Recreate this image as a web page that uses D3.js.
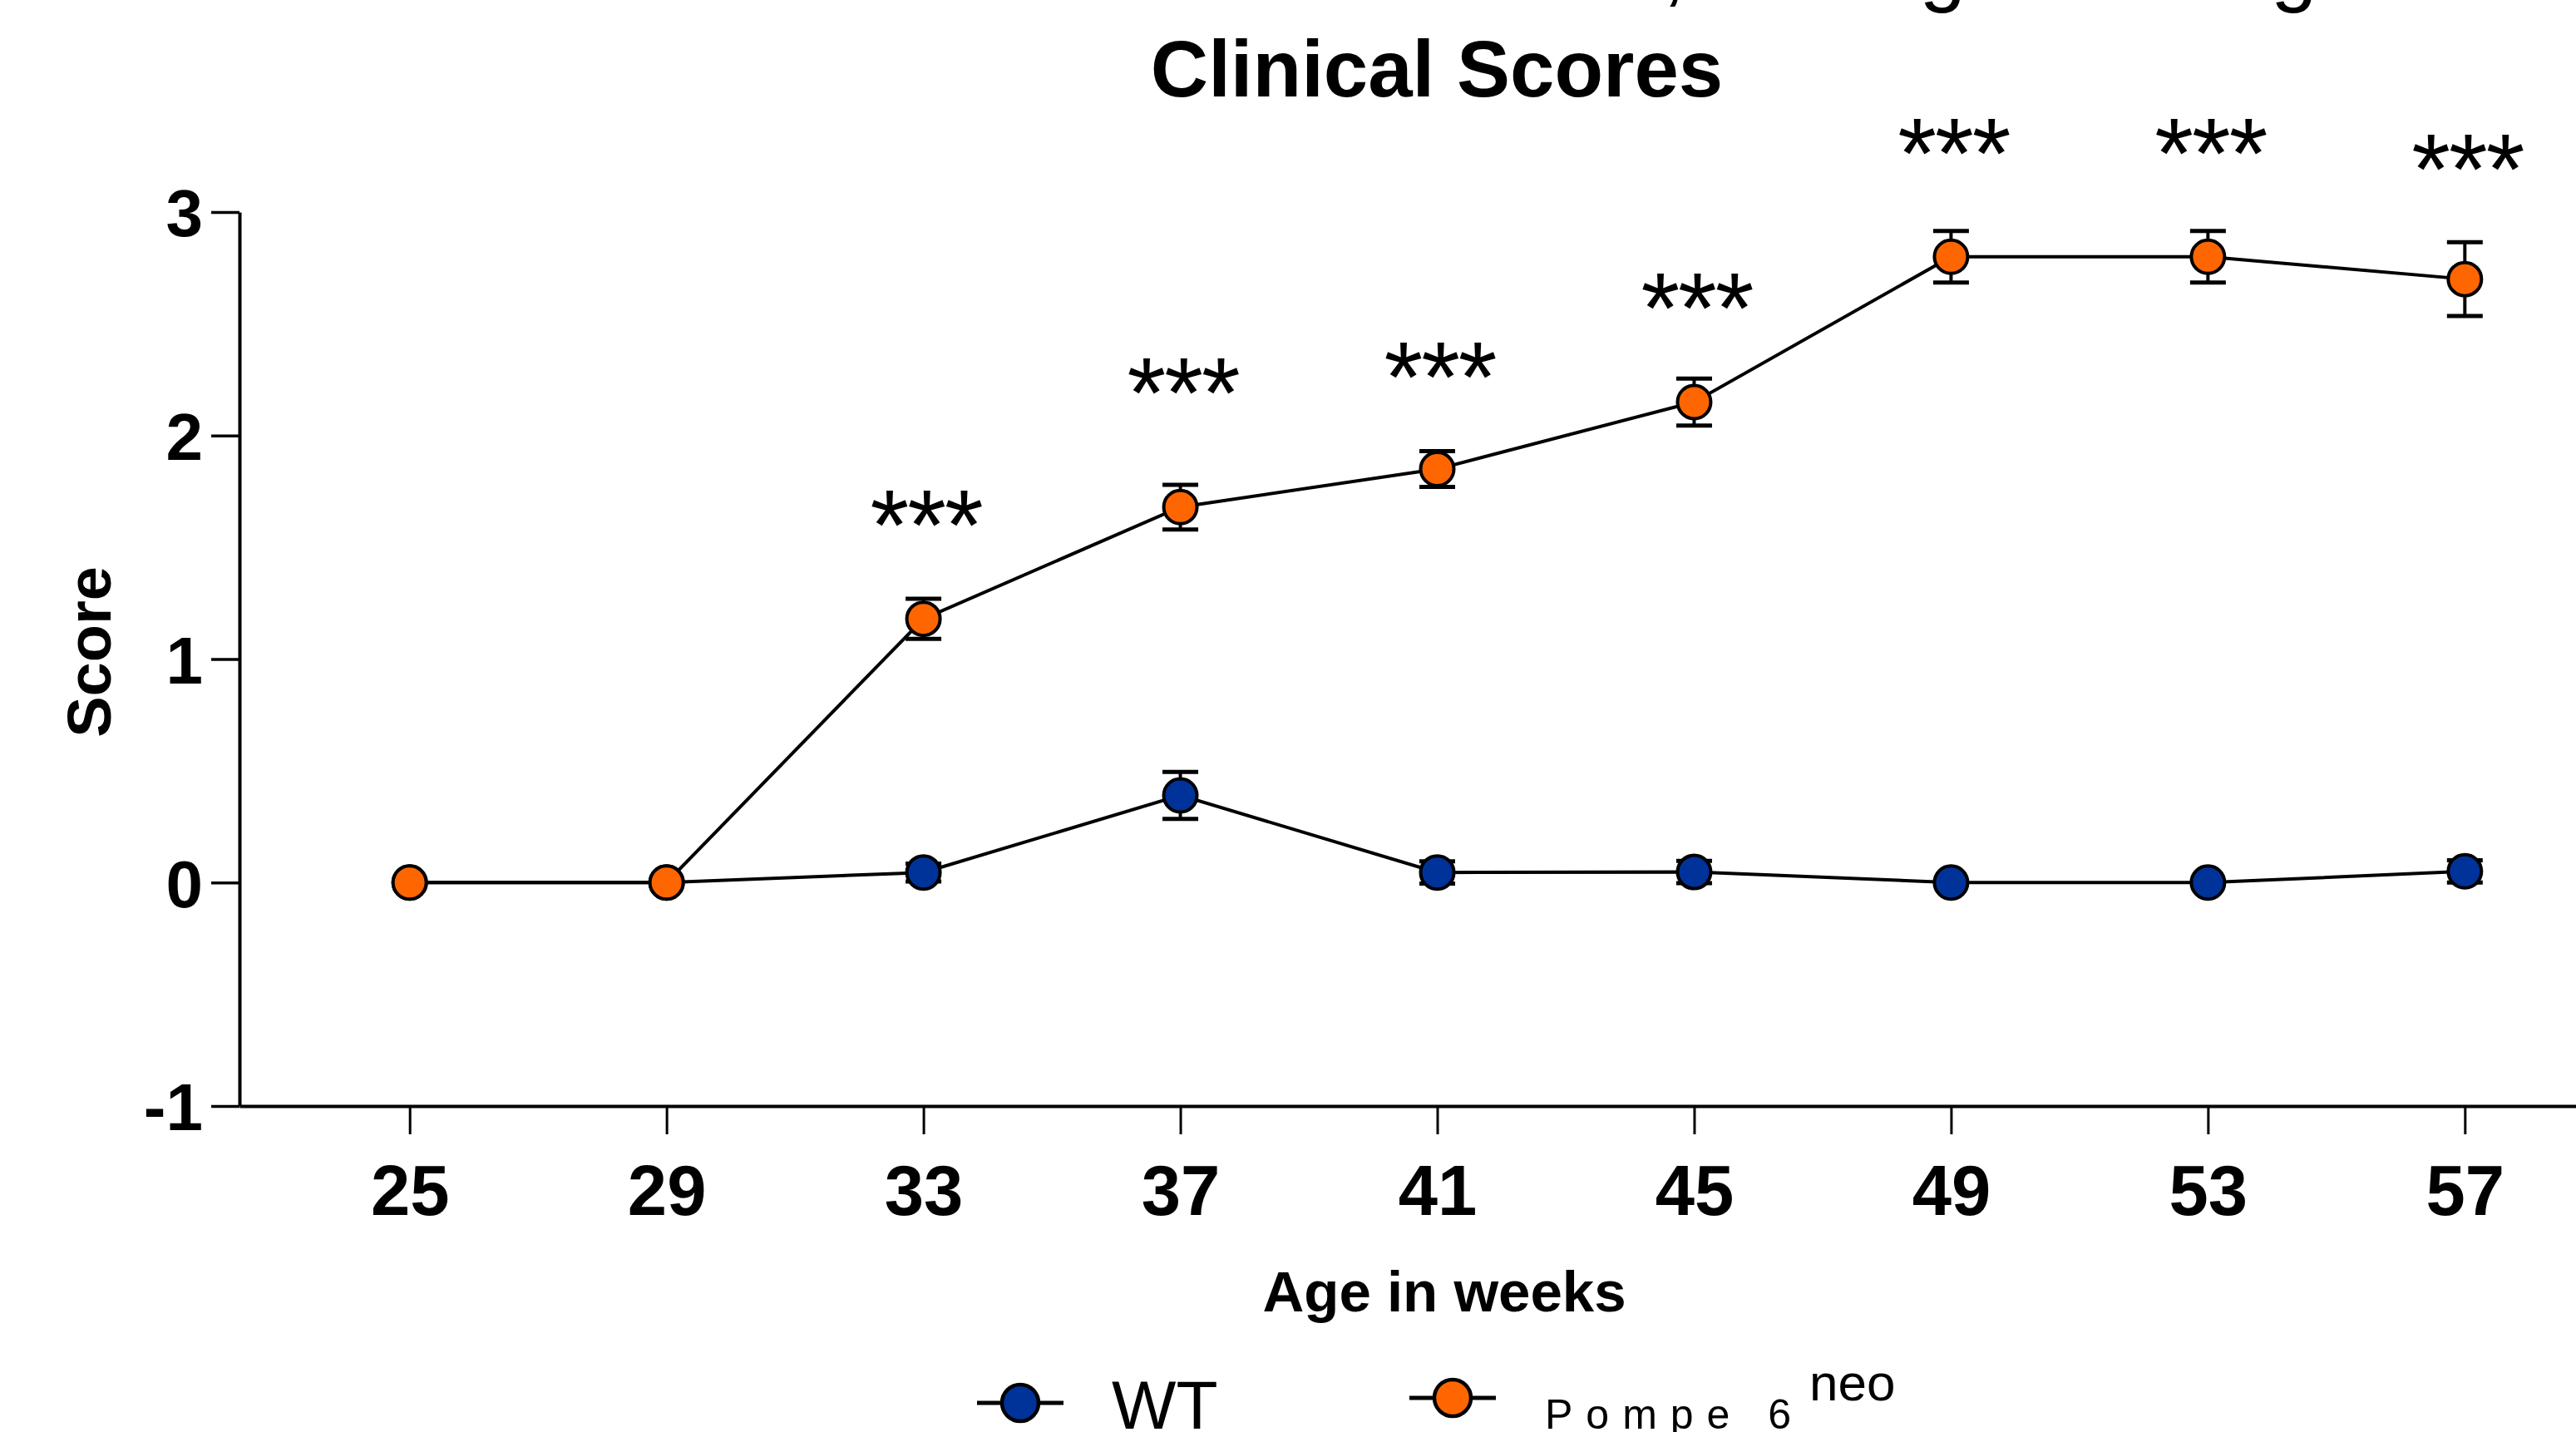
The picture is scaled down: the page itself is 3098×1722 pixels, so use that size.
<!DOCTYPE html>
<html><head><meta charset="utf-8">
<script src="https://cdn.jsdelivr.net/npm/d3@7"></script>
<style>html,body{margin:0;padding:0;background:#fff;overflow:hidden}</style>
</head><body>
<svg id="chart" width="3098" height="1722" xmlns="http://www.w3.org/2000/svg"></svg>
<script>
// ---- data ----
const weeks = [25, 29, 33, 37, 41, 45, 49, 53, 57];
const wtMean = [0, 0, 0.045, 0.39, 0.045, 0.047, 0, 0, 0.05];
const wtSem = [0, 0, 0.04, 0.105, 0.05, 0.05, 0, 0, 0.05];
const pompeMean = [0, 0, 1.18, 1.68, 1.85, 2.15, 2.80, 2.80, 2.70];
const pompeSem = [0, 0, 0.09, 0.10, 0.08, 0.105, 0.115, 0.115, 0.165];
const sigWeeks = [33, 37, 41, 45, 49, 53, 57];
const sigLabels = ["***", "***", "***", "***", "***", "***", "***"];
const sigLevel = [1.64, 2.23, 2.30, 2.61, 3.30, 3.30, 3.23];
const yTicks = [-1, 0, 1, 2, 3];
const titleText = "Clinical Scores";
const topLineText = "Mice, Average Scoring";
const xTitle = "Age in weeks";
const yTitle = "Score";
const legendNames = ["WT", "Pompe 6"];
const legendSup = ["", "neo"];
const colors = ["#003399", "#ff6600"];

const FONT = "'Liberation Sans', Arial, Helvetica, sans-serif";
const svg = d3.select("#chart");

const x = d3.scaleLinear().domain([22.35, 59.65]).range([288, 3169]);
const y = d3.scaleLinear().domain([-1, 3]).range([1330, 255]);

// ---- top (cut off) line and title ----
svg.append("text").attr("x", 1788).attr("y", -5)
  .attr("font-family", FONT).attr("font-size", 100).text(topLineText);
svg.append("text").attr("x", 1728).attr("y", 116).attr("text-anchor", "middle")
  .attr("font-family", FONT).attr("font-weight", "bold").attr("font-size", 96).text(titleText);

// ---- axes ----
const yAxis = svg.append("g").attr("transform", `translate(${x.range()[0]},0)`)
  .call(d3.axisLeft(y).tickValues(yTicks).tickSize(34).tickSizeOuter(0)
    .tickFormat(d => String(d)));
yAxis.select(".domain").attr("stroke", "#000").attr("stroke-width", 4);
yAxis.selectAll(".tick line").attr("stroke", "#000").attr("stroke-width", 3.5);
yAxis.selectAll(".tick text").attr("font-family", FONT).attr("font-weight", "bold")
  .attr("font-size", 80).attr("fill", "#000").attr("x", -44).attr("dy", "0.36em");

const xAxis = svg.append("g").attr("transform", `translate(0,${y(-1)})`)
  .call(d3.axisBottom(x).tickValues(weeks).tickSize(34).tickSizeOuter(0));
xAxis.select(".domain").attr("stroke", "#000").attr("stroke-width", 4);
xAxis.selectAll(".tick line").attr("stroke", "#000").attr("stroke-width", 3);
xAxis.selectAll(".tick text").attr("font-family", FONT).attr("font-weight", "bold")
  .attr("font-size", 85).attr("fill", "#000").attr("y", 131).attr("dy", 0);

svg.append("text").attr("x", 1737).attr("y", 1577).attr("text-anchor", "middle")
  .attr("font-family", FONT).attr("font-weight", "bold").attr("font-size", 69).text(xTitle);
svg.append("text").attr("transform", "translate(133,784) rotate(-90)").attr("text-anchor", "middle")
  .attr("font-family", FONT).attr("font-weight", "bold").attr("font-size", 74).text(yTitle);

// ---- series ----
const series = [
  { mean: wtMean, sem: wtSem, color: colors[0] },
  { mean: pompeMean, sem: pompeSem, color: colors[1] }
];
const line = d3.line().x(d => x(d.w)).y(d => y(d.m));
const R = 20, CAP = 21.5;

series.forEach(s => {
  const pts = weeks.map((w, i) => ({ w, m: s.mean[i], e: s.sem[i] }));
  const g = svg.append("g");
  g.append("path").datum(pts).attr("d", line).attr("fill", "none")
    .attr("stroke", "#000").attr("stroke-width", 4);
  const eb = g.selectAll(".eb").data(pts.filter(d => d.e > 0)).enter().append("g");
  eb.append("line").attr("x1", d => x(d.w)).attr("x2", d => x(d.w))
    .attr("y1", d => y(d.m - d.e)).attr("y2", d => y(d.m + d.e))
    .attr("stroke", "#000").attr("stroke-width", 4);
  [1, -1].forEach(sg => {
    eb.append("line").attr("x1", d => x(d.w) - CAP).attr("x2", d => x(d.w) + CAP)
      .attr("y1", d => y(d.m + sg * d.e)).attr("y2", d => y(d.m + sg * d.e))
      .attr("stroke", "#000").attr("stroke-width", 5);
  });
  g.selectAll("circle").data(pts).enter().append("circle")
    .attr("cx", d => x(d.w)).attr("cy", d => y(d.m)).attr("r", R)
    .attr("fill", s.color).attr("stroke", "#000").attr("stroke-width", 4);
});

// ---- significance labels ----
svg.selectAll(".sig").data(sigWeeks).enter().append("text")
  .attr("x", (d) => x(d) + 3).attr("y", (d, i) => y(sigLevel[i]) + 52)
  .attr("text-anchor", "middle").attr("font-family", FONT).attr("font-size", 120)
  .attr("letter-spacing", -2)
  .text((d, i) => sigLabels[i]);

// ---- legend ----
const legendX = [1227, 1747];
const legendY = [1687, 1681];
legendNames.forEach((name, i) => {
  const lg = svg.append("g");
  lg.append("line").attr("x1", legendX[i] - 52).attr("x2", legendX[i] + 52)
    .attr("y1", legendY[i]).attr("y2", legendY[i]).attr("stroke", "#000").attr("stroke-width", 5);
  lg.append("circle").attr("cx", legendX[i]).attr("cy", legendY[i]).attr("r", 22)
    .attr("fill", colors[i]).attr("stroke", "#000").attr("stroke-width", 4.5);
});
svg.append("text").attr("x", 1337).attr("y", 1718).attr("font-family", FONT)
  .attr("font-size", 82).text(legendNames[0]);
svg.append("text").attr("x", 1858).attr("y", 1718).attr("font-family", FONT)
  .attr("font-size", 50).attr("letter-spacing", 16).text(legendNames[1]);
svg.append("text").attr("x", 2176).attr("y", 1684).attr("font-family", FONT)
  .attr("font-size", 62).text(legendSup[1]);
</script>
</body></html>
